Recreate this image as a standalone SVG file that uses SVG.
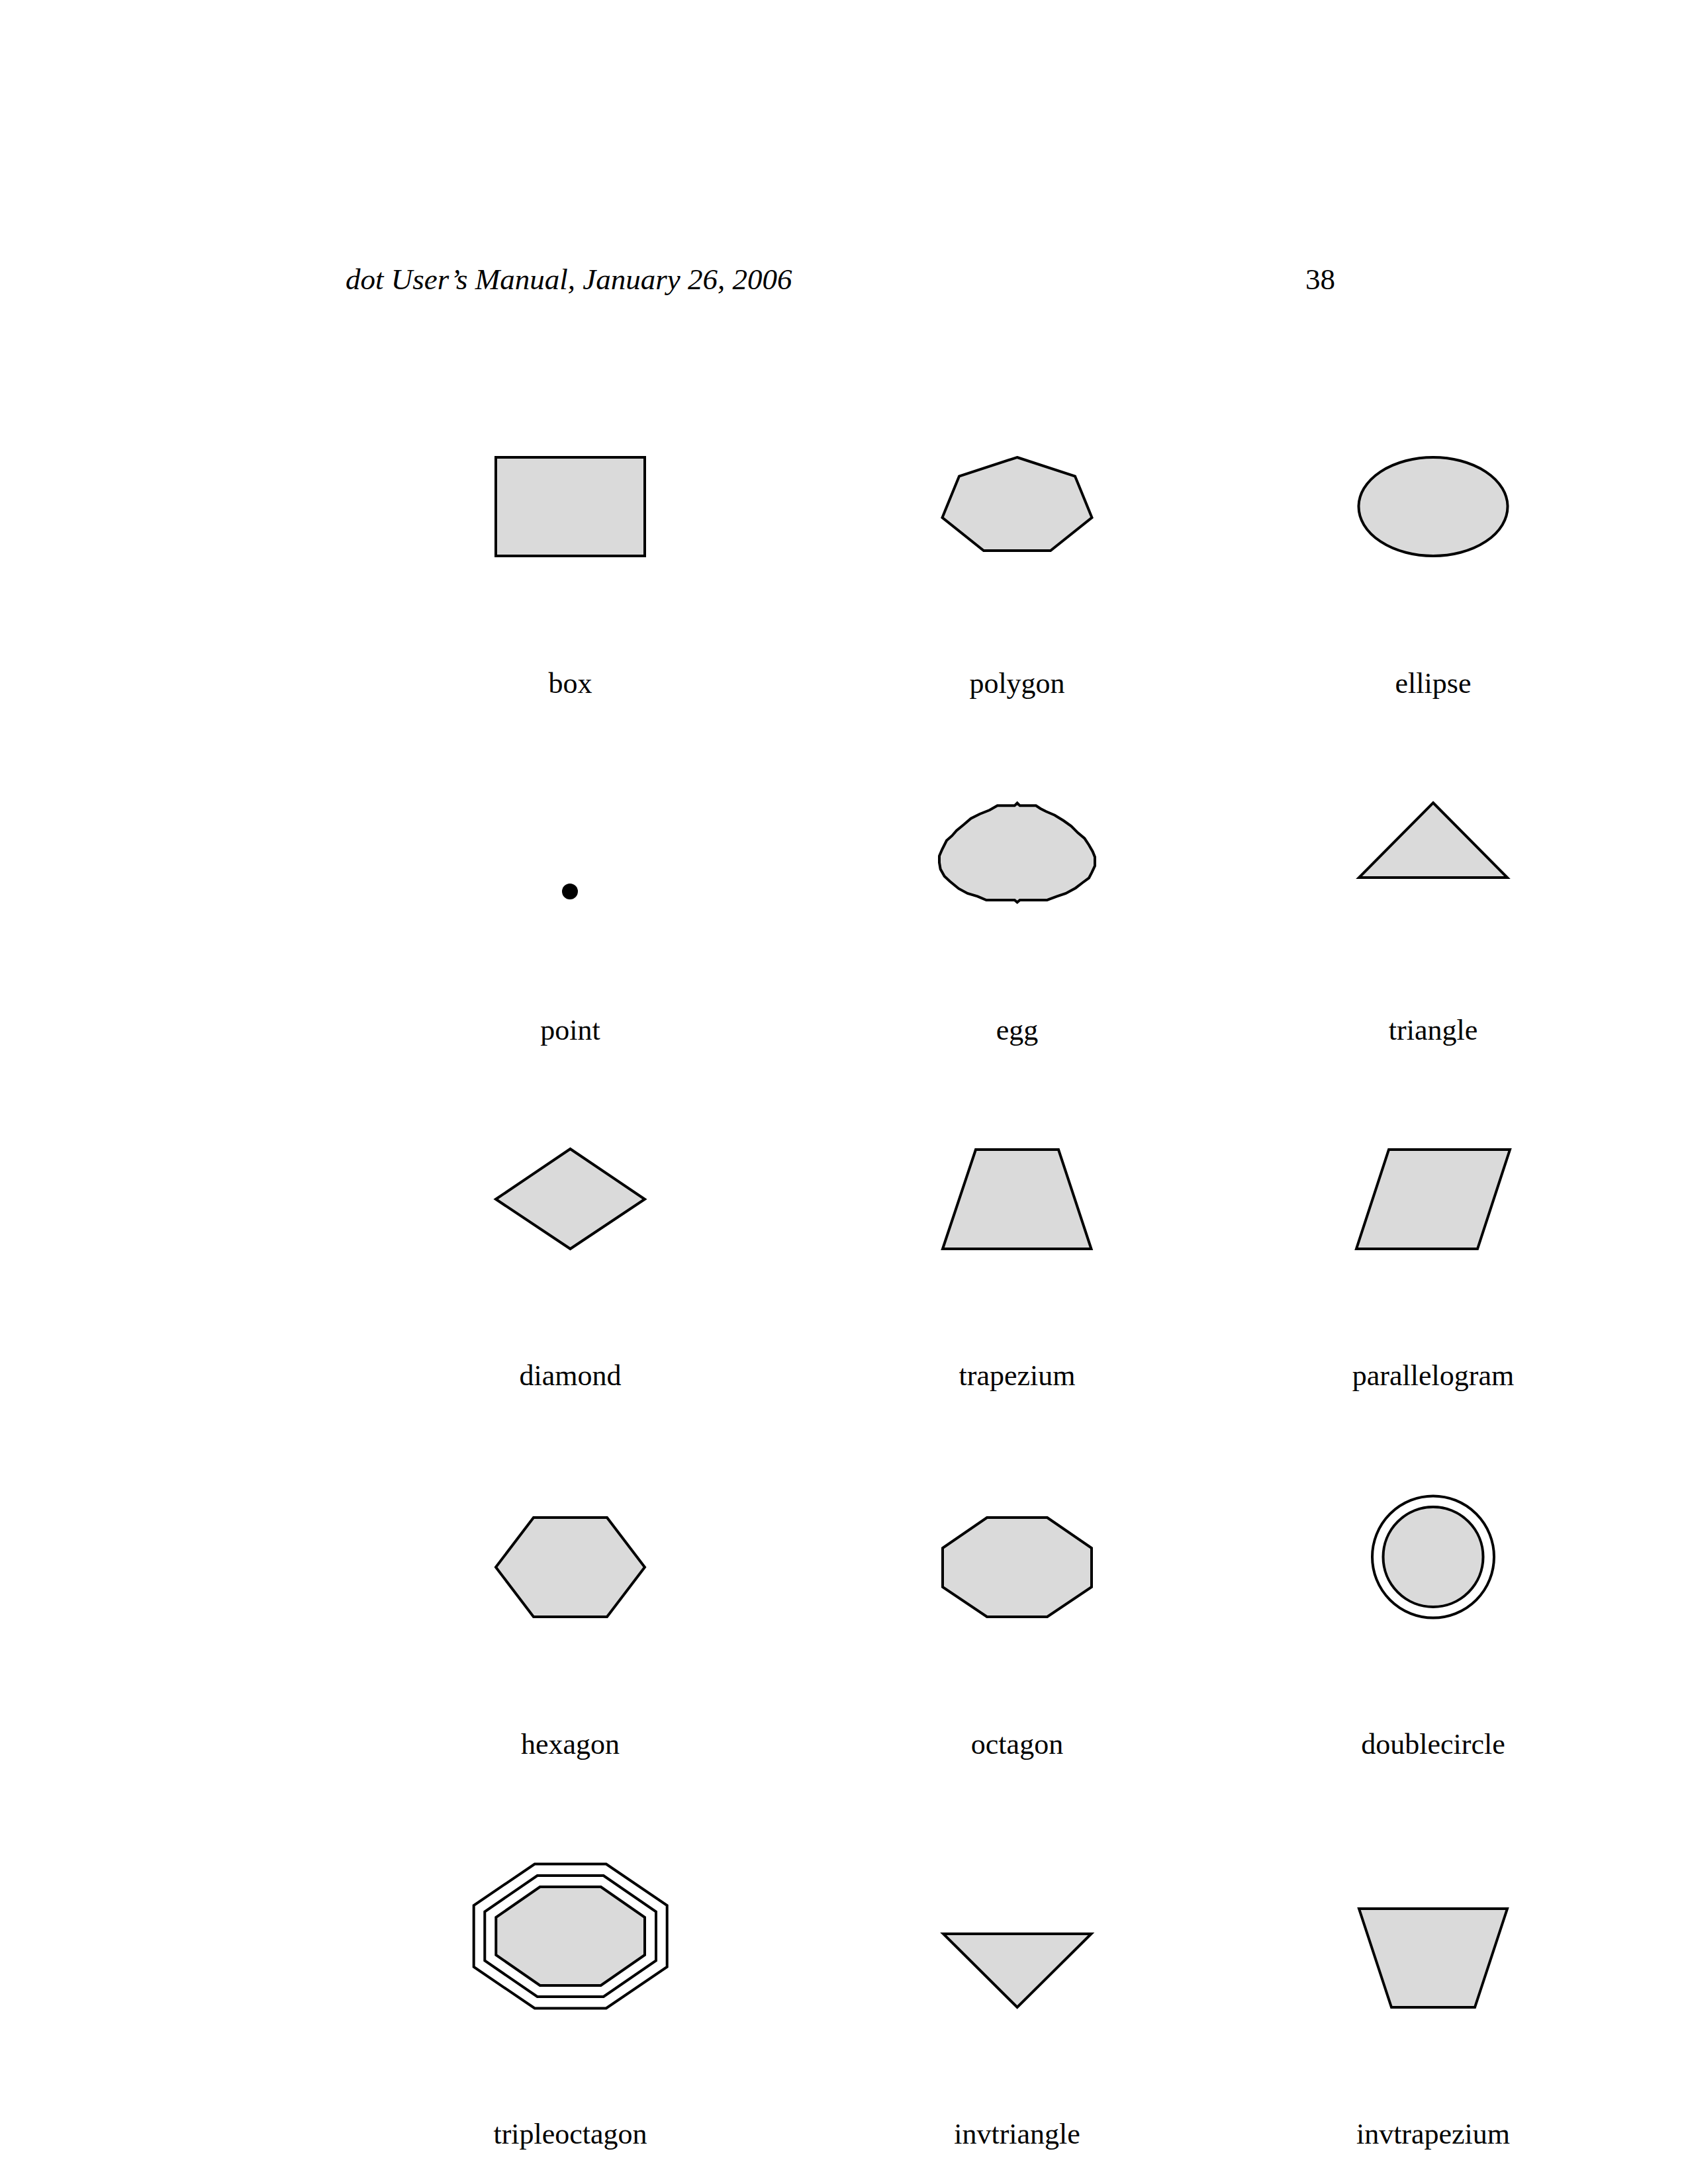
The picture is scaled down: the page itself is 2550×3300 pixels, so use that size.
<svg xmlns="http://www.w3.org/2000/svg" width="2550" height="3300" viewBox="0 0 2550 3300">
<style>
.s{fill:#dadada;stroke:#000;stroke-width:4;stroke-linejoin:miter}
.o{fill:none;stroke:#000;stroke-width:4}
.l{font-family:"Liberation Serif","Times New Roman",serif;font-size:44px;fill:#000;text-anchor:middle}
.h{font-family:"Liberation Serif","Times New Roman",serif;font-size:45px;fill:#000;font-style:italic}
.n{font-family:"Liberation Serif","Times New Roman",serif;font-size:45px;fill:#000}
</style>
<rect width="2550" height="3300" fill="#fff"/>
<g id="header">
<text class="h" x="522" y="437">dot User’s Manual, January 26, 2006</text>
<text class="n" x="1972" y="437">38</text>
</g>
<g id="box"><rect class="s" x="749" y="691" width="225" height="149"/><text class="l" x="861.5" y="1047">box</text></g>
<g id="polygon"><polygon class="s" points="1536.5,691 1624,719.5 1649.5,782 1587,832 1486,832 1423.5,782 1449,719.5"/><text class="l" x="1536.5" y="1047">polygon</text></g>
<g id="ellipse"><ellipse class="s" cx="2165" cy="765.5" rx="112.5" ry="74.5"/><text class="l" x="2165" y="1047">ellipse</text></g>
<g id="point"><circle cx="861" cy="1347" r="12" fill="#000"/><text class="l" x="861.5" y="1571">point</text></g>
<g id="egg"><polygon class="s" points="1506.7,1217.3 1532.7,1217.3 1536.7,1213.3 1540.7,1217.3 1565,1217.3 1571.7,1221.7 1580,1226 1593.3,1231.7 1606.7,1240 1618.3,1248.3 1628.3,1258.3 1638.3,1266.7 1645,1276.7 1650.7,1286.7 1654,1295 1654,1308.3 1649.3,1318.3 1645,1326.7 1635,1334 1625,1341.7 1610,1350 1596.7,1354.3 1583.3,1359.3 1581.7,1360 1540.7,1360 1536.7,1363.3 1532.7,1360 1490,1360 1476.7,1354.3 1461.7,1350 1448.3,1342.7 1435,1331.7 1426.7,1324 1420.7,1313.3 1419,1303.3 1419,1293.3 1423.3,1283.3 1430,1270 1438.3,1262.7 1445,1255 1455,1246.7 1466.7,1236.7 1480,1230 1495,1224"/><text class="l" x="1536.5" y="1571">egg</text></g>
<g id="triangle"><polygon class="s" points="2165,1213 2277,1326 2053,1326"/><text class="l" x="2165" y="1571">triangle</text></g>
<g id="diamond"><polygon class="s" points="749,1812 861.5,1736 974,1812 861.5,1887"/><text class="l" x="861.5" y="2093">diamond</text></g>
<g id="trapezium"><polygon class="s" points="1474,1737 1599,1737 1648.5,1887 1424,1887"/><text class="l" x="1536.5" y="2093">trapezium</text></g>
<g id="parallelogram"><polygon class="s" points="2098,1737 2281,1737 2232,1887 2049,1887"/><text class="l" x="2165" y="2093">parallelogram</text></g>
<g id="hexagon"><polygon class="s" points="806,2293 917,2293 974,2368 917,2443 806,2443 749,2368"/><text class="l" x="861.5" y="2650">hexagon</text></g>
<g id="octagon"><polygon class="s" points="1491,2293 1582,2293 1649,2339 1649,2398 1582,2443 1491,2443 1424,2398 1424,2339"/><text class="l" x="1536.5" y="2650">octagon</text></g>
<g id="doublecircle"><circle class="o" cx="2165" cy="2352.5" r="92"/><circle class="s" cx="2165" cy="2352.5" r="75.5"/><text class="l" x="2165" y="2650">doublecircle</text></g>
<g id="tripleoctagon">
<polygon class="o" points="807.7,2816.5 915.7,2816.5 1007.7,2879 1007.7,2972 915.7,3034.5 807.7,3034.5 715.7,2972 715.7,2879"/>
<polygon class="o" points="811.7,2834 911.7,2834 991,2888.5 991,2962.5 911.7,3017 811.7,3017 732.3,2962.5 732.3,2888.5"/>
<polygon class="s" points="815.7,2851 907.7,2851 974,2897 974,2954 907.7,3000 815.7,3000 749.3,2954 749.3,2897"/>
<text class="l" x="861.5" y="3239">tripleoctagon</text></g>
<g id="invtriangle"><polygon class="s" points="1425,2922 1648.5,2922 1536.7,3033"/><text class="l" x="1536.5" y="3239">invtriangle</text></g>
<g id="invtrapezium"><polygon class="s" points="2053,2884 2277,2884 2228,3033 2102,3033"/><text class="l" x="2165" y="3239">invtrapezium</text></g>
<g id="connectors"></g>
</svg>
